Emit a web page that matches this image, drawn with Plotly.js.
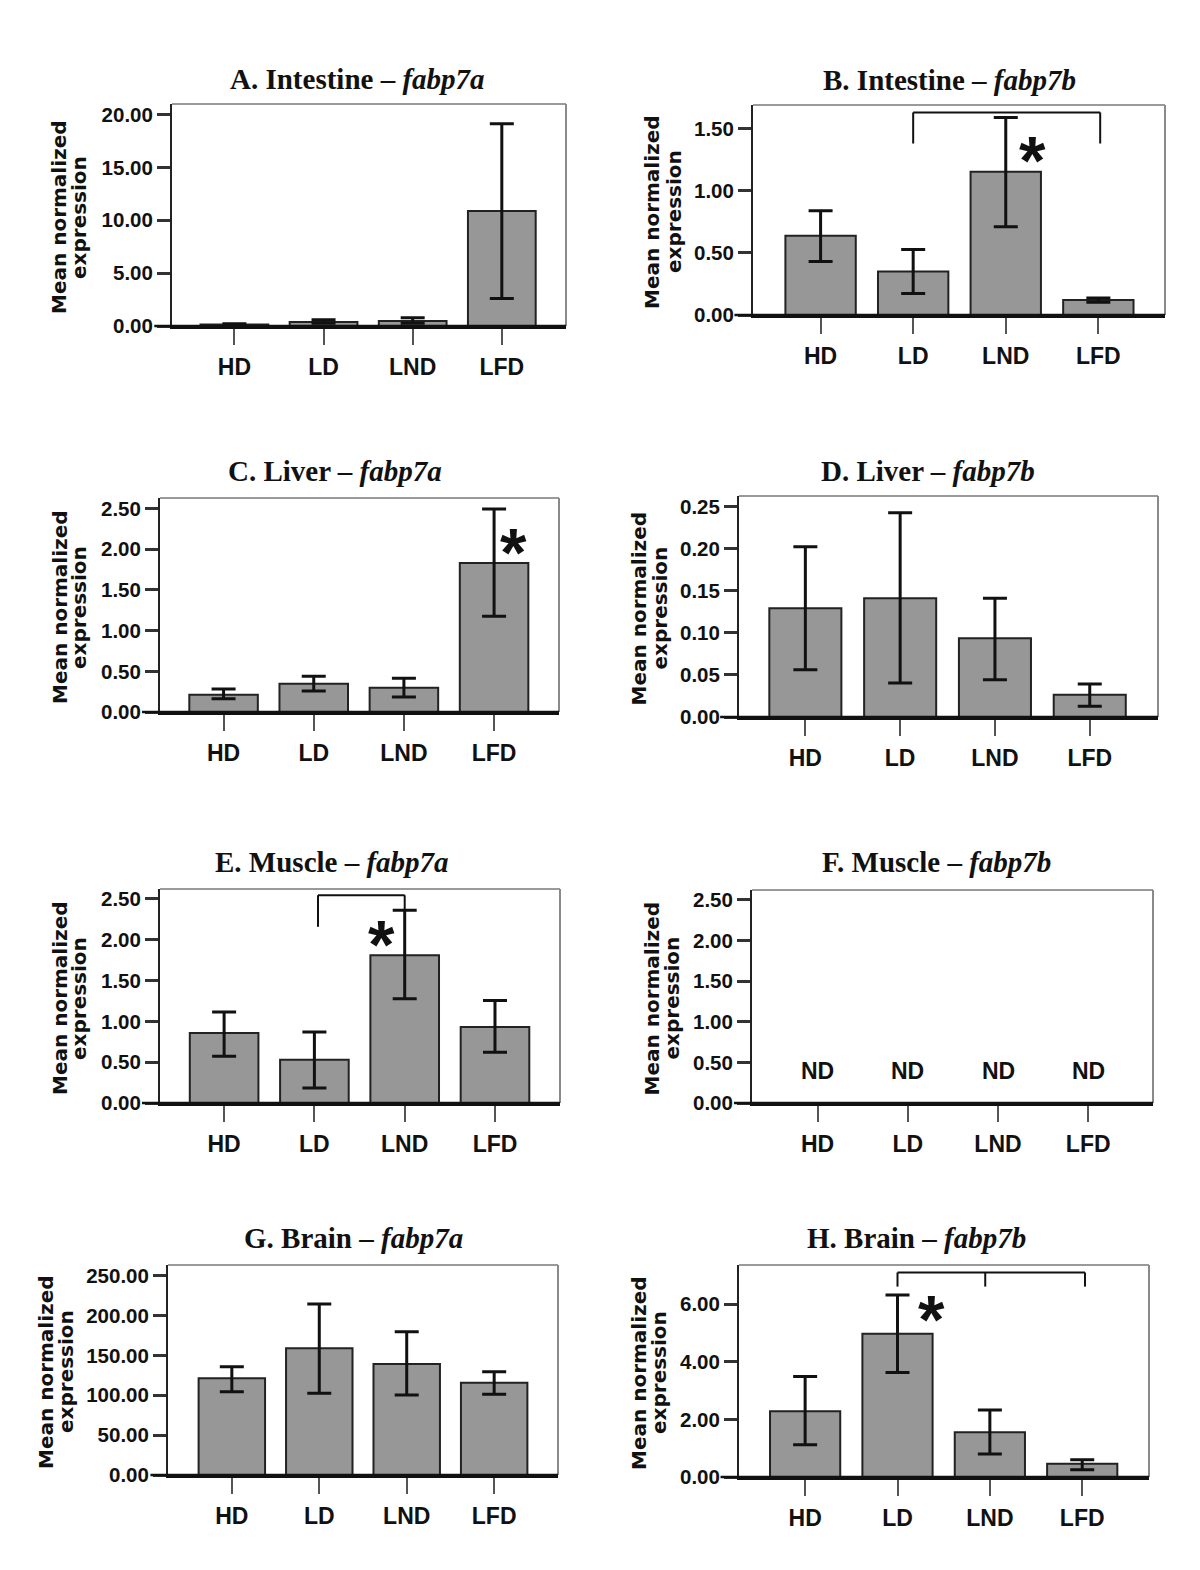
<!DOCTYPE html>
<html><head><meta charset="utf-8">
<script src="https://cdn.plot.ly/plotly-3.0.1.min.js"></script>
<style>html,body{margin:0;padding:0;background:#fff}</style>
</head><body><div id="chart" style="width:1200px;height:1570px"></div>
<script>
// ---------------- DATA ----------------
const categories = ['HD', 'LD', 'LND', 'LFD'];

// A. Intestine – fabp7a
const intestineAMean  = [0.15, 0.38, 0.47, 10.88];
const intestineAUpper = [0.22, 0.60, 0.79, 19.14];
const intestineALower = [0.10, 0.25, 0.25, 2.59];

// B. Intestine – fabp7b
const intestineBMean  = [0.638, 0.351, 1.152, 0.121];
const intestineBUpper = [0.839, 0.528, 1.589, 0.137];
const intestineBLower = [0.430, 0.174, 0.710, 0.102];

// C. Liver – fabp7a
const liverAMean  = [0.213, 0.348, 0.299, 1.832];
const liverAUpper = [0.283, 0.439, 0.414, 2.496];
const liverALower = [0.164, 0.258, 0.184, 1.176];

// D. Liver – fabp7b
const liverBMean  = [0.1294, 0.1413, 0.0938, 0.0265];
const liverBUpper = [0.2026, 0.2430, 0.1413, 0.0392];
const liverBLower = [0.0562, 0.0404, 0.0443, 0.0127];

// E. Muscle – fabp7a
const muscleAMean  = [0.858, 0.531, 1.810, 0.931];
const muscleAUpper = [1.115, 0.870, 2.360, 1.254];
const muscleALower = [0.572, 0.184, 1.275, 0.621];

// F. Muscle – fabp7b (not detected)
const muscleBLabels = ['ND', 'ND', 'ND', 'ND'];

// G. Brain – fabp7a
const brainAMean  = [121.3, 158.9, 139.3, 115.8];
const brainAUpper = [135.9, 214.6, 179.8, 129.6];
const brainALower = [104.5, 102.5, 100.4, 101.2];

// H. Brain – fabp7b
const brainBMean  = [2.28, 4.97, 1.55, 0.46];
const brainBUpper = [3.49, 6.32, 2.33, 0.60];
const brainBLower = [1.12, 3.63, 0.80, 0.25];

const panelTitles = [
  'A. Intestine – <i>fabp7a</i>', 'B. Intestine – <i>fabp7b</i>',
  'C. Liver – <i>fabp7a</i>', 'D. Liver – <i>fabp7b</i>',
  'E. Muscle – <i>fabp7a</i>', 'F. Muscle – <i>fabp7b</i>',
  'G. Brain – <i>fabp7a</i>', 'H. Brain – <i>fabp7b</i>'
];
const yTitleLine1 = 'Mean normalized';
const yTitleLine2 = 'expression';
const sigMark = '*';

// ---------------- LAYOUT CONFIG ----------------
const W = 1200, H = 1570;
const panels = [
  {mean: intestineAMean, up: intestineAUpper, lo: intestineALower, box: [172, 566, 104, 326], xr: [-0.70, 3.72], ymax: 21.0, dtick: 5,  tp: [357, 79],  yt: [59, 79]},
  {mean: intestineBMean, up: intestineBUpper, lo: intestineBLower, box: [753, 1165, 105, 315], xr: [-0.73, 3.72], ymax: 1.69, dtick: 0.5, tp: [949, 80],  yt: [652, 674]},
  {mean: liverAMean, up: liverAUpper, lo: liverALower, box: [160, 559, 498, 712], xr: [-0.705, 3.72], ymax: 2.63, dtick: 0.5, tp: [335, 471], yt: [60, 79]},
  {mean: liverBMean, up: liverBUpper, lo: liverBLower, box: [739, 1158, 496, 717], xr: [-0.70, 3.72], ymax: 0.263, dtick: 0.05, tp: [928, 471], yt: [638, 659]},
  {mean: muscleAMean, up: muscleAUpper, lo: muscleALower, box: [160, 560, 889, 1103], xr: [-0.71, 3.72], ymax: 2.62, dtick: 0.5, tp: [332, 862], yt: [60, 79]},
  {mean: null, box: [752, 1153, 890, 1103], xr: [-0.727, 3.718], ymax: 2.62, dtick: 0.5, tp: [936, 862], yt: [651, 671]},
  {mean: brainAMean, up: brainAUpper, lo: brainALower, box: [168, 558, 1265, 1475], xr: [-0.73, 3.73], ymax: 263.4, dtick: 50, tp: [353, 1238], yt: [46, 66]},
  {mean: brainBMean, up: brainBUpper, lo: brainBLower, box: [739, 1149, 1265, 1477], xr: [-0.716, 3.723], ymax: 7.36, dtick: 2, tp: [916, 1238], yt: [639, 659]}
];

const data = [];
const layout = {
  width: W, height: H, margin: {l: 0, r: 0, t: 0, b: 0},
  paper_bgcolor: '#fff', plot_bgcolor: '#fff', showlegend: false,
  shapes: [], annotations: []
};

const tickFontY = {family: 'Liberation Sans, Arial, sans-serif', size: 20.5, color: '#111', weight: 'bold'};
const tickFontX = {family: 'Liberation Sans, Arial, sans-serif', size: 23, color: '#111', weight: 'bold'};

panels.forEach((p, i) => {
  const n = i + 1;
  const sfx = n === 1 ? '' : String(n);
  const xa = 'x' + sfx, ya = 'y' + sfx;
  const hasData = !!p.mean;
  data.push({
    type: 'bar', x: categories, y: hasData ? p.mean : [0, 0, 0, 0],
    xaxis: xa, yaxis: ya, width: 0.76, hoverinfo: 'skip',
    marker: {color: '#979797', line: {color: '#222', width: 2}},
    error_y: hasData ? {
      type: 'data', symmetric: false, visible: true,
      array: p.up.map((u, j) => u - p.mean[j]),
      arrayminus: p.mean.map((m, j) => m - p.lo[j]),
      color: '#111', thickness: 3, width: 12
    } : {visible: false}
  });
  const yVals = [];
  for (let v = 0; v <= p.ymax + 1e-9; v += p.dtick) yVals.push(+v.toFixed(4));
  layout['xaxis' + sfx] = {
    domain: [p.box[0] / W, p.box[1] / W], anchor: ya, type: 'category',
    range: p.xr, showgrid: false, zeroline: false,
    showline: true, linecolor: '#111', linewidth: 2.5,
    ticks: 'outside', ticklen: 16, tickwidth: 2, tickcolor: '#555',
    tickvals: categories, ticktext: categories.map(c => '<b>' + c + '</b>'),
    tickfont: tickFontX, ticklabelstandoff: 3, fixedrange: true
  };
  layout['yaxis' + sfx] = {
    domain: [1 - p.box[3] / H, 1 - p.box[2] / H], anchor: xa,
    range: [0, p.ymax], tickvals: yVals, ticktext: yVals.map(v => '<b>' + v.toFixed(2) + '</b>'),
    showgrid: false, zeroline: false,
    showline: true, linecolor: '#222', linewidth: 2,
    ticks: 'outside', ticklen: 13, tickwidth: 3, tickcolor: '#333',
    tickfont: tickFontY, fixedrange: true
  };
  // top and right frame
  layout.shapes.push({type: 'line', xref: xa + ' domain', yref: ya + ' domain', x0: 0, x1: 1, y0: 1, y1: 1, line: {color: '#9a9a9a', width: 2}});
  layout.shapes.push({type: 'line', xref: xa + ' domain', yref: ya + ' domain', x0: 1, x1: 1, y0: 0, y1: 1, line: {color: '#8a8a8a', width: 2}});
  // baseline extension
  layout.shapes.push({type: 'line', xref: xa + ' domain', yref: ya + ' domain', x0: -0.045, x1: 1.0, y0: 0, y1: 0, line: {color: '#111', width: 2.5}});
  // title
  layout.annotations.push({
    text: '<b>' + panelTitles[i] + '</b>', xref: 'paper', yref: 'paper',
    x: p.tp[0] / W, y: 1 - p.tp[1] / H, xanchor: 'center', yanchor: 'middle', showarrow: false,
    font: {family: 'Liberation Serif, serif', size: 29, color: '#111', weight: 'bold'}
  });
  // y titles (two lines)
  [yTitleLine1, yTitleLine2].forEach((t, k) => {
    layout.annotations.push({
      text: '<b>' + t + '</b>', xref: 'paper', yref: 'paper', textangle: -90,
      x: p.yt[k] / W, y: 1 - ((p.box[2] + p.box[3]) / 2 + 2) / H,
      xanchor: 'center', yanchor: 'middle', showarrow: false,
      font: {family: 'DejaVu Sans, sans-serif', size: 20, color: '#111', weight: 'bold'}
    });
  });
});

// ND labels for panel F
muscleBLabels.forEach((t, j) => {
  layout.annotations.push({text: '<b>' + t + '</b>', xref: 'x6', yref: 'y6', x: j, y: 0.39, showarrow: false,
    xanchor: 'center', yanchor: 'middle',
    font: {family: 'Liberation Sans, sans-serif', size: 23, color: '#111', weight: 'bold'}});
});

// significance brackets
function seg(xa, ya, x0, y0, x1, y1) {
  layout.shapes.push({type: 'line', xref: xa, yref: ya, x0: x0, y0: y0, x1: x1, y1: y1, line: {color: '#111', width: 2}});
}
// B
seg('x2', 'y2', 1.0, 1.63, 3.02, 1.63);
seg('x2', 'y2', 1.0, 1.38, 1.0, 1.63);
seg('x2', 'y2', 3.02, 1.38, 3.02, 1.63);
// E
seg('x5', 'y5', 1.04, 2.544, 2.0, 2.544);
seg('x5', 'y5', 1.04, 2.157, 1.04, 2.544);
seg('x5', 'y5', 2.0, 2.36, 2.0, 2.544);
// H
seg('x8', 'y8', 1.0, 7.10, 3.03, 7.10);
seg('x8', 'y8', 1.0, 6.61, 1.0, 7.10);
seg('x8', 'y8', 1.95, 6.61, 1.95, 7.10);
seg('x8', 'y8', 3.03, 6.61, 3.03, 7.10);

// asterisks
[['x2', 'y2', 2.29, 1.325], ['x3', 'y3', 3.21, 2.09], ['x5', 'y5', 1.74, 2.07], ['x8', 'y8', 1.37, 5.83]].forEach(a => {
  layout.annotations.push({text: '<b>' + sigMark + '</b>', xref: a[0], yref: a[1], x: a[2], y: a[3], showarrow: false,
    xanchor: 'center', yanchor: 'middle', yshift: -10,
    font: {family: 'Liberation Sans, sans-serif', size: 68, color: '#111', weight: 'bold'}});
});

Plotly.newPlot('chart', data, layout, {displayModeBar: false, staticPlot: true});
</script>
</body></html>
